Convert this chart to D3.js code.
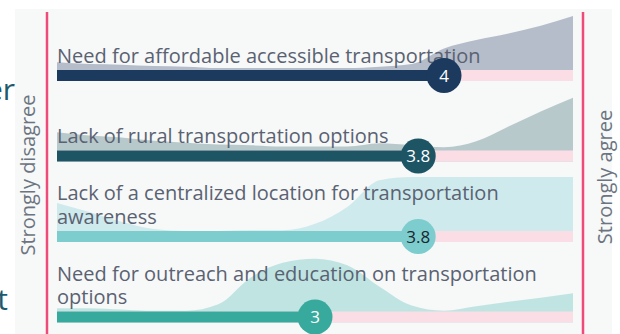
<!DOCTYPE html>
<html><head><meta charset="utf-8">
<script src="https://cdn.jsdelivr.net/npm/d3@7"></script>
<style>body{margin:0;background:#fff;} svg{display:block}</style>
</head><body>
<svg id="c" width="620" height="334"></svg>
<script>
// ---- data ----
const categories = [
  "Need for affordable accessible transportation",
  "Lack of rural transportation options",
  "Lack of a centralized location for transportation awareness",
  "Need for outreach and education on transportation options"
];
const labelLines = [
  ["Need for affordable accessible transportation"],
  ["Lack of rural transportation options"],
  ["Lack of a centralized location for transportation", "awareness"],
  ["Need for outreach and education on transportation", "options"]
];
const meanScores = [4, 3.8, 3.8, 3];
const scoreLabels = ["4", "3.8", "3.8", "3"];
const densityX = [1,1.25,1.5,1.75,2,2.25,2.5,2.75,3,3.25,3.5,3.75,4,4.25,4.5,4.75,5];
const density1 = [0.29,0.26,0.25,0.23,0.22,0.2,0.2,0.2,0.2,0.2,0.22,0.26,0.5,0.63,0.73,0.85,1.0];
const density2 = [0.45,0.4,0.37,0.32,0.29,0.26,0.25,0.23,0.23,0.23,0.28,0.25,0.22,0.31,0.54,0.77,0.98];
const density3 = [0.6,0.46,0.31,0.2,0.17,0.17,0.18,0.18,0.28,0.54,0.95,1,1,1,1,1,1];
const density4 = [0.22,0.22,0.2,0.18,0.18,0.28,0.69,0.92,0.98,0.88,0.55,0.26,0.18,0.25,0.32,0.38,0.45];
const densities = [density1, density2, density3, density4];
const axisLabels = ["Strongly disagree", "Strongly agree"];

// ---- styles ----
const barColors = ["#1c3a5e", "#1e5565", "#7dcdce", "#38aa9d"];
const areaColors = ["#b5bdca", "#b8c9cc", "#cfeaed", "#c0e4e2"];
const scoreTextColors = ["#ffffff", "#ffffff", "#1a2630", "#ffffff"];
const trackColor = "#fbdde5";
const pinkLine = "#ee4a7a";
const textColor = "#5a6272";
const font = "Open Sans";

const svg = d3.select("#c");
const x = d3.scaleLinear().domain([1, 5]).range([57, 573]);
const y = d3.scalePoint().domain(categories).range([75.5, 317]);
const h = d3.scaleLinear().domain([0, 1]).range([0, 65]);
const barH = 11, r = 17.5;

// panel
svg.append("rect").attr("x", 15).attr("y", 9).attr("width", 597).attr("height", 330).attr("fill", "#f7f8f8");

// cut-off fragments from neighbouring slide text
svg.append("text").attr("x", 15).attr("y", 100).attr("text-anchor", "end")
  .attr("font-family", font).attr("font-size", 30).attr("fill", "#1d5a6c").text("er");
svg.append("text").attr("x", 8).attr("y", 310).attr("text-anchor", "end")
  .attr("font-family", font).attr("font-size", 30).attr("fill", "#1d5a6c").text("t");

// pink boundary lines
svg.append("line").attr("x1", 47).attr("x2", 47).attr("y1", 12).attr("y2", 334).attr("stroke", pinkLine).attr("stroke-width", 2.5);
svg.append("line").attr("x1", 583).attr("x2", 583).attr("y1", 12).attr("y2", 334).attr("stroke", pinkLine).attr("stroke-width", 2.5);

// axis labels
svg.append("text").attr("transform", "translate(35,175) rotate(-90)").attr("text-anchor", "middle")
  .attr("font-family", font).attr("font-size", 20).attr("fill", "#6b7480").text(axisLabels[0]);
svg.append("text").attr("transform", "translate(612,177) rotate(-90)").attr("text-anchor", "middle")
  .attr("font-family", font).attr("font-size", 20).attr("fill", "#6b7480").text(axisLabels[1]);

const rows = categories.map((c, i) => ({c, i, cy: y(c), score: meanScores[i], dens: densities[i]}));

// density areas
rows.forEach(d => {
  const base = d.cy + barH / 2;
  const area = d3.area().curve(d3.curveMonotoneX)
    .x((v, k) => x(densityX[k])).y0(base).y1(v => base - h(v));
  svg.append("path").datum(d.dens).attr("d", area).attr("fill", areaColors[d.i]);
});

// tracks and bars
rows.forEach(d => {
  svg.append("rect").attr("x", x(1)).attr("y", d.cy - barH / 2).attr("width", x(5) - x(1)).attr("height", barH).attr("fill", trackColor);
  svg.append("rect").attr("x", x(1)).attr("y", d.cy - barH / 2).attr("width", x(d.score) - x(1)).attr("height", barH).attr("fill", barColors[d.i]);
});

// labels
rows.forEach(d => {
  const lines = labelLines[d.i];
  const t = svg.append("text").attr("font-family", font).attr("font-size", 20).attr("fill", textColor);
  lines.forEach((ln, k) => {
    t.append("tspan").attr("x", x(1)).attr("y", d.cy - 13 - (lines.length - 1 - k) * 23.5).text(ln);
  });
});

// score circles
rows.forEach(d => {
  svg.append("circle").attr("cx", x(d.score)).attr("cy", d.cy).attr("r", r).attr("fill", barColors[d.i]);
  svg.append("text").attr("x", x(d.score)).attr("y", d.cy + 6).attr("text-anchor", "middle")
    .attr("font-family", font).attr("font-size", 17).attr("fill", scoreTextColors[d.i]).text(scoreLabels[d.i]);
});
</script>
</body></html>
